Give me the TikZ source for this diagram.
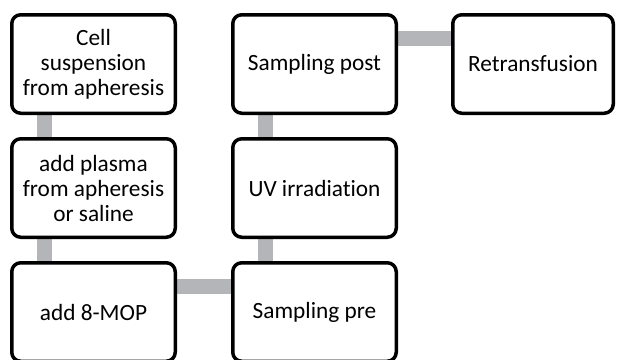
\documentclass[tikz,border=0pt]{standalone}
\usepackage{fontspec}
\setmainfont{Carlito}[Ligatures=NoCommon]
\usetikzlibrary{positioning,backgrounds}
\definecolor{linkgray}{RGB}{180,181,184}
\tikzset{
  process/.style={
    rectangle, 
    rounded corners=9pt,
    minimum width=163.5pt, 
    minimum height=98.5pt,
    align=center, 
    draw=black, 
    line width=3.5pt,
    fill=white,
    font=\fontsize{23.3}{25}\selectfont
    },
  link/.style={line width=15pt,draw=linkgray},
}

\begin{document}
\begin{tikzpicture}[x=1pt,y=1pt,node distance=22pt]
    \clip (0,0) rectangle (617,-359);

    % Draw the first column (top to bottom)
    \node[process] (cell) at (93.5,-64) {Cell\\suspension\\from apheresis};
    \node[process, below=of cell] (plasma) {add plasma\\from apheresis\\or saline};
    \node[process, below=of plasma] (mop) {add 8-MOP};

    % Draw the second column (bottom to top)
    \node[process, right=54pt of mop] (pre) {Sampling pre};
    \node[process, above=of pre] (uv) {UV irradiation};
    \node[process, above=of uv] (post) {Sampling post};

    % Last step
    \node[process, minimum width=160.5pt, right=53pt of post] (retrans) {Retransfusion};

    % Connect the steps behind the boxes
    \begin{scope}[on background layer]
        \draw[link] ([xshift=34.5pt]cell.south west) -- ([xshift=34.5pt]plasma.north west);
        \draw[link] ([xshift=34.5pt]plasma.south west) -- ([xshift=34.5pt]mop.north west);
        \draw[link] ([yshift=-25pt]mop.north east) -- ([yshift=-25pt]pre.north west);
        \draw[link] ([xshift=34.5pt]pre.north west) -- ([xshift=34.5pt]uv.south west);
        \draw[link] ([xshift=34.5pt]uv.north west) -- ([xshift=34.5pt]post.south west);
        \draw[link] ([yshift=-25.5pt]post.north east) -- ([yshift=-25.5pt]retrans.north west);
    \end{scope}
\end{tikzpicture}
\end{document}
